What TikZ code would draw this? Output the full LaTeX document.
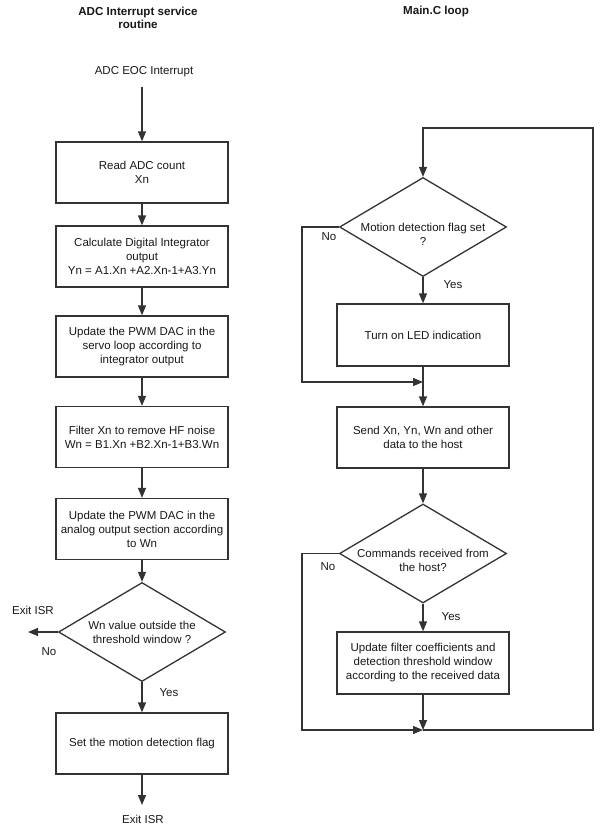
\documentclass[tikz,border=0pt]{standalone}
\usepackage{fontspec}
\setmainfont{Liberation Sans}
\usetikzlibrary{arrows.meta,shapes.geometric}
\begin{document}
\begin{tikzpicture}[x=1pt,y=-1pt,
  every node/.style={font=\fontsize{11.5}{14}\selectfont, text=black!90},
  ln/.style={draw=black!80, line width=1.3pt},
  arr/.style={ln, -{Triangle[length=10pt,width=8pt]}},
  box/.style={draw=black!80, line width=1.3pt, rectangle, minimum width=172pt, minimum height=61pt, align=center, inner sep=2pt},
  dec/.style={draw=black!80, line width=1.3pt, diamond, minimum width=167pt, minimum height=99pt, inner sep=0pt},
  dtext/.style={align=center, inner sep=0pt},
  ttl/.style={font=\fontsize{11.6}{13.5}\selectfont\bfseries, align=center},
  lbl/.style={inner sep=0pt}]
\useasboundingbox[fill=white] (0,0) rectangle (601,835);
% titles
\node[ttl] (t1) at (138,18) {ADC Interrupt service\\routine};
\node[ttl] (t2) at (436,12) {Main.C loop};
% left column
\node (start) at (144,72) {ADC EOC Interrupt};
\coordinate (s0) at (142,87);
\node[box] (b1) at (142,172.5) {Read ADC count\\Xn};
\node[box] (b2) at (142,256.5) {Calculate Digital Integrator\\output\\Yn = A1.Xn +A2.Xn-1+A3.Yn};
\node[box] (b3) at (142,346.5) {Update the PWM DAC in the\\servo loop according to\\integrator output};
\node[box] (b4) at (142,437) {Filter Xn to remove HF noise\\Wn = B1.Xn +B2.Xn-1+B3.Wn};
\node[box] (b5) at (142,529) {Update the PWM DAC in the\\analog output section according\\to Wn};
\node[dec] (d1) at (142,632) {};
\node[dtext] (d1t) at (d1.center) {Wn value outside the\\threshold window ?};
\node[box] (b6) at (142,743.5) {Set the motion detection flag};
\node (exit2) at (143,819) {Exit ISR};
\coordinate (e2) at (142,805);
\node (exit1) at (33,610) {Exit ISR};
\coordinate (e1) at (28,632);
\node[lbl] (no1) at (49,652) {No};
\node[lbl] (yes1) at (169,693) {Yes};
\draw[arr] (s0) -- (b1.north);
\draw[arr] (b1.south) -- (b2.north);
\draw[arr] (b2.south) -- (b3.north);
\draw[arr] (b3.south) -- (b4.north);
\draw[arr] (b4.south) -- (b5.north);
\draw[arr] (b5.south) -- (d1.north);
\draw[arr] (d1.south) -- (b6.north);
\draw[arr] (d1.west) -- (e1);
\draw[arr] (b6.south) -- (e2);
% right column
\node[dec] (d2) at (423,227) {};
\node[dtext] (d2t) at ([yshift=-7pt]d2.center) {Motion detection flag set\\?};
\node[box, minimum height=62pt] (b7) at (423,335) {Turn on LED indication};
\node[box] (b8) at (423,437.5) {Send Xn, Yn, Wn and other\\data to the host};
\node[dec] (d3) at (423,553.5) {};
\node[dtext] (d3t) at ([yshift=-7pt]d3.center) {Commands received from\\the host?};
\node[box, minimum height=62pt] (b9) at (423,663) {Update filter coefficients and\\detection threshold window\\according to the received data};
\node[lbl] (no2) at (329,237) {No};
\node[lbl] (yes2) at (453,285) {Yes};
\node[lbl] (no3) at (328,567) {No};
\node[lbl] (yes3) at (451,617) {Yes};
\coordinate (j1) at (423,382);
\coordinate (j2) at (423,730);
\coordinate (n1) at (302,382);
\coordinate (n2) at (302,730);
\coordinate (top) at (423,128);
\coordinate (tr) at (593,128);
\coordinate (br) at (593,730);
\draw[arr] (d2.south) -- (b7.north);
\draw[arr] (b7.south) -- (b8.north);
\draw[arr] (b8.south) -- (d3.north);
\draw[arr] (d3.south) -- (b9.north);
\draw[arr] (d2.west) -| (n1) -- (j1);
\draw[arr] (d3.west) -| (n2) -- (j2);
\draw[arr] (b9.south) -- (j2);
\draw[arr] (j2) -- (br) -- (tr) -- (top) -- (d2.north);
\end{tikzpicture}
\end{document}
